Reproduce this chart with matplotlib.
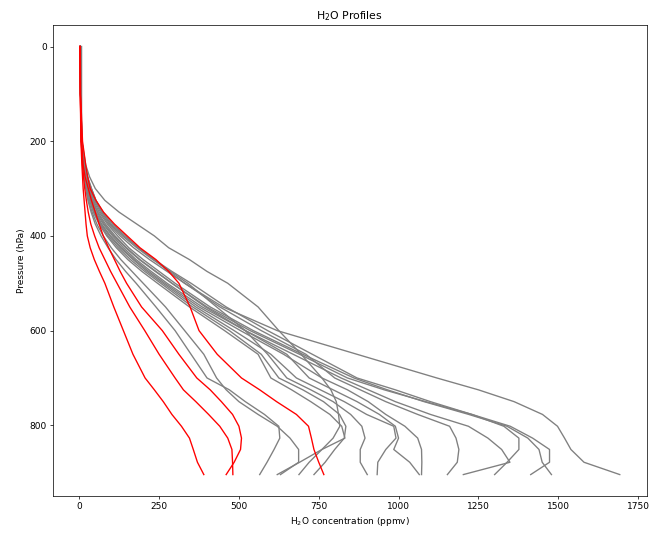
import matplotlib
matplotlib.use("Agg")
import matplotlib.pyplot as plt

levels = [0, 100, 200, 250, 275, 300, 325, 350, 375, 400, 425, 450, 475, 500, 550, 600, 650,
          700, 725, 750, 777, 802, 827, 851, 878, 904]

red_1 = [2, 3, 5, 8, 10, 12, 15, 18, 21, 25, 34, 47, 63, 80, 108, 138, 168, 206, 235, 263, 290, 320, 345, 357, 370, 390]
red_2 = [2, 3, 6, 10, 13, 17, 22, 28, 36, 48, 62, 80, 98, 118, 158, 205, 250, 300, 326, 365, 405, 440, 465, 478, 480, 481]
red_3 = [2, 3, 7, 12, 18, 28, 38, 50, 62, 75, 92, 110, 128, 148, 195, 260, 312, 368, 410, 445, 480, 500, 508, 505, 485, 460]
red_4 = [3, 4, 10, 20, 26, 34, 52, 76, 110, 150, 190, 240, 280, 312, 347, 375, 432, 508, 565, 618, 680, 718, 727, 735, 750, 766]

gray_1 = [3, 4, 8, 20, 32, 50, 80, 125, 180, 235, 280, 345, 400, 465, 560, 625, 695, 760, 788, 805, 812, 816, 795, 760, 720, 688]
gray_2 = [3, 4, 8, 18, 26, 38, 52, 75, 105, 145, 185, 235, 280, 330, 450, 620, 870, 1120, 1250, 1362, 1451, 1498, 1520, 1540, 1581, 1693]
gray_3 = [3, 4, 8, 16, 23, 32, 45, 62, 88, 120, 155, 200, 250, 300, 410, 545, 700, 860, 965, 1080, 1220, 1340, 1405, 1440, 1450, 1479]
gray_4 = [3, 4, 8, 15, 21, 30, 42, 58, 82, 112, 148, 190, 240, 290, 400, 535, 690, 840, 955, 1085, 1230, 1350, 1420, 1473, 1473, 1414]
gray_5 = [3, 4, 8, 17, 25, 38, 52, 72, 100, 140, 185, 235, 290, 350, 460, 590, 730, 870, 990, 1100, 1230, 1330, 1377, 1377, 1340, 1301]
gray_6 = [3, 4, 7, 14, 20, 28, 38, 52, 75, 104, 138, 178, 225, 275, 385, 520, 670, 820, 905, 990, 1100, 1219, 1280, 1323, 1349, 1203]
gray_7 = [3, 4, 7, 14, 22, 34, 48, 66, 92, 128, 170, 220, 275, 330, 440, 570, 710, 800, 880, 960, 1060, 1160, 1180, 1189, 1184, 1153]
gray_8 = [3, 4, 7, 13, 19, 27, 36, 50, 70, 98, 132, 172, 218, 268, 375, 505, 640, 760, 840, 905, 960, 1020, 1060, 1072, 1073, 1072]
gray_9 = [3, 4, 7, 13, 20, 30, 41, 56, 78, 108, 145, 188, 238, 290, 395, 520, 650, 720, 795, 870, 940, 990, 1000, 985, 1035, 1065]
gray_10 = [3, 4, 7, 13, 19, 26, 35, 48, 68, 95, 128, 168, 212, 262, 365, 485, 600, 680, 755, 830, 900, 985, 992, 960, 935, 933]
gray_11 = [3, 4, 7, 12, 22, 36, 50, 70, 96, 135, 180, 230, 285, 340, 430, 520, 590, 650, 725, 795, 850, 885, 895, 880, 880, 902]
gray_12 = [3, 4, 7, 12, 18, 25, 34, 46, 65, 90, 122, 160, 205, 255, 355, 470, 570, 625, 700, 765, 815, 835, 830, 800, 770, 735]
gray_13 = [3, 4, 7, 12, 17, 24, 32, 44, 62, 86, 116, 152, 196, 245, 345, 455, 560, 600, 665, 725, 785, 822, 832, 760, 690, 620]
gray_14 = [3, 4, 6, 11, 16, 22, 29, 40, 55, 75, 100, 130, 165, 200, 270, 330, 390, 430, 460, 500, 560, 620, 660, 687, 687, 630]
gray_15 = [7, 7, 7, 11, 15, 20, 27, 37, 50, 68, 90, 115, 145, 178, 240, 300, 350, 400, 470, 520, 580, 625, 628, 610, 588, 565]

gray_profiles = [gray_1, gray_2, gray_3, gray_4, gray_5, gray_6, gray_7, gray_8,
                 gray_9, gray_10, gray_11, gray_12, gray_13, gray_14, gray_15]
red_profiles = [red_1, red_2, red_3, red_4]

fig = plt.figure(figsize=(10, 534 / 65), dpi=65)
ax = fig.add_axes([0.0815, 0.0712, 0.9135, 0.8818])

for prof in gray_profiles:
    ax.plot(prof, levels, color="gray")
for prof in red_profiles:
    ax.plot(prof, levels, color="red")

ax.invert_yaxis()
ax.set_title("H$_2$O Profiles")
ax.set_xlabel("H$_2$O concentration (ppmv)")
ax.set_ylabel("Pressure (hPa)")

fig.savefig("out.png", dpi=65)
